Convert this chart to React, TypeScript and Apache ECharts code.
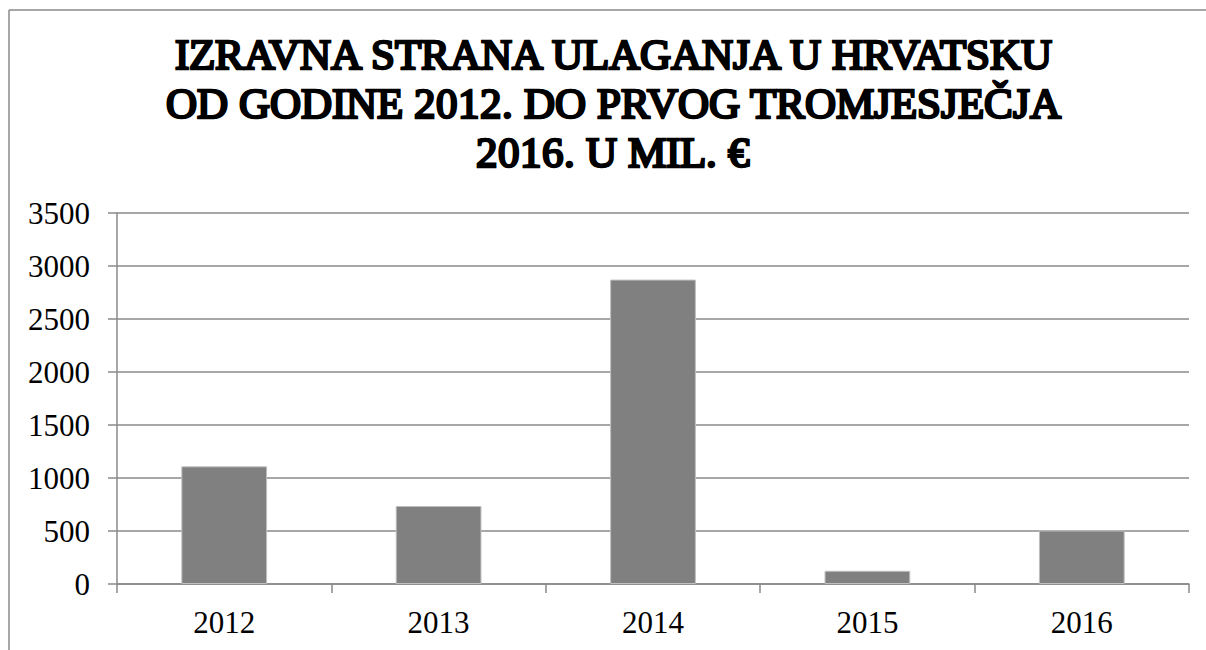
import React, { useEffect, useRef } from "react";
import * as echarts from "echarts";

const titleLines = [
  "IZRAVNA STRANA ULAGANJA U HRVATSKU",
  "OD GODINE 2012. DO PRVOG TROMJESJEČJA",
  "2016. U MIL. €",
];
const categories = ["2012", "2013", "2014", "2015", "2016"];
const values = [1110, 736, 2872, 125, 505];
const yMin = 0;
const yMax = 3500;
const yInterval = 500;

const FONT = "Liberation Serif";
const TITLE_FONT = "SerifTitleFace, 'Liberation Serif', serif";
const GRAY = "#8a8a8a";

const fontCss = `
@font-face {
  font-family: 'SerifTitleFace';
  src: local('Liberation Serif'), local('LiberationSerif'), local('LiberationSerif-Regular'), local('Liberation Serif Regular');
  font-weight: 400;
  font-style: normal;
}
`;

export default function App() {
  const ref = useRef<HTMLDivElement>(null);
  useEffect(() => {
    if (!ref.current) return;
    const chart = echarts.init(ref.current, null, { renderer: "svg" });
    chart.setOption({
      animation: false,
      backgroundColor: "#ffffff",
      title: {
        text: titleLines.join("\n"),
        left: 613,
        top: 30.5,
        padding: 0,
        textAlign: "center",
        textStyle: {
          fontFamily: TITLE_FONT,
          fontSize: 43,
          fontWeight: "bold",
          color: "#000",
          lineHeight: 48.6,
          textBorderColor: "#000",
          textBorderWidth: 1.1,
        },
      },
      graphic: [
        {
          type: "line",
          shape: { x1: 9, y1: 10, x2: 1206, y2: 10 },
          style: { stroke: GRAY, lineWidth: 1.5 },
          silent: true,
        },
        {
          type: "line",
          shape: { x1: 9, y1: 10, x2: 9, y2: 650 },
          style: { stroke: GRAY, lineWidth: 1.5 },
          silent: true,
        },
      ],
      grid: { left: 117, right: 17, top: 213, bottom: 66, containLabel: false },
      xAxis: {
        type: "category",
        data: categories,
        axisLine: { show: true, lineStyle: { color: GRAY, width: 1.5 } },
        axisTick: { show: true, length: 9, lineStyle: { color: GRAY, width: 1.5 } },
        axisLabel: { color: "#000", fontFamily: FONT, fontSize: 31, margin: 23 },
      },
      yAxis: {
        type: "value",
        min: yMin,
        max: yMax,
        interval: yInterval,
        axisLine: { show: true, lineStyle: { color: GRAY, width: 1.5 } },
        axisTick: { show: true, length: 9, lineStyle: { color: GRAY, width: 1.5 } },
        splitLine: { show: true, lineStyle: { color: GRAY, width: 1.5 } },
        axisLabel: {
          color: "#000",
          fontFamily: FONT,
          fontSize: 31,
          margin: 27,
          formatter: (v: number) => String(v),
        },
      },
      series: [
        {
          type: "bar",
          data: values,
          barWidth: "40%",
          itemStyle: { color: "#808080", borderColor: "#c0c0c0", borderWidth: 1 },
        },
      ],
    });
    return () => chart.dispose();
  }, []);
  return (
    <>
      <style>{fontCss}</style>
      <div
        ref={ref}
        style={{ position: "absolute", left: 0, top: 0, width: 1206, height: 650 }}
      />
    </>
  );
}
